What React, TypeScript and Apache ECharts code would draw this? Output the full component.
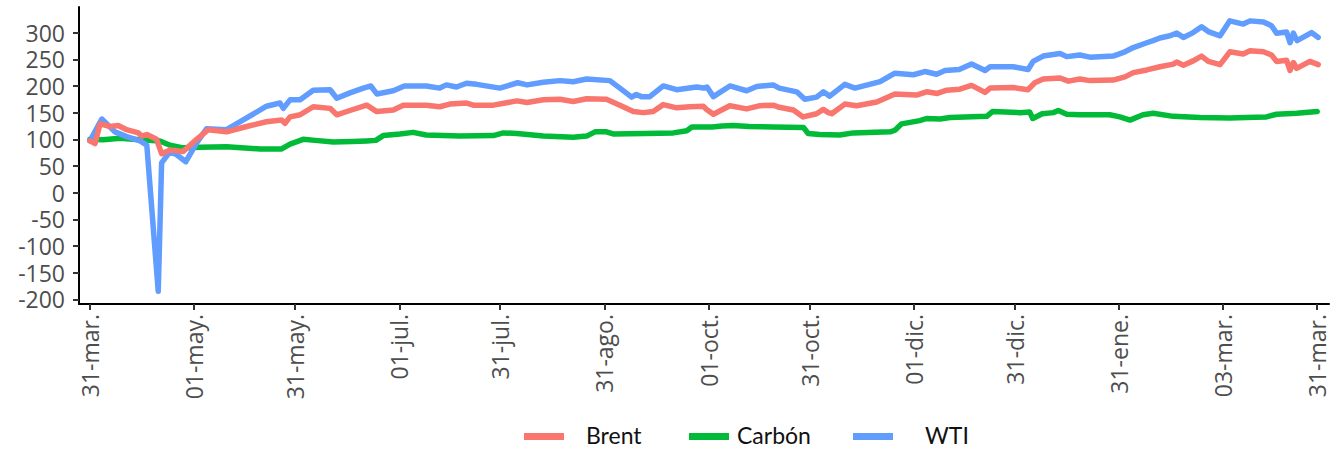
import React, { useEffect, useRef } from "react";
import * as echarts from "echarts";

// x = days since 31-mar-2020
const xTickDays = [0, 31, 61, 92, 122, 153, 184, 214, 245, 275, 306, 337, 365];
const xTickLabels = ["31-mar.", "01-may.", "31-may.", "01-jul.", "31-jul.", "31-ago.", "01-oct.", "31-oct.", "01-dic.", "31-dic.", "31-ene.", "03-mar.", "31-mar."];
const yTicks = [-200, -150, -100, -50, 0, 50, 100, 150, 200, 250, 300];

const seriesNames = ["Brent", "Carbón", "WTI"];
const seriesColors = ["#F8766D", "#00BA38", "#619CFF"];

const brentDays = [0, 1.5, 3, 6, 8.4, 10.9, 14.4, 15.4, 16.9, 19.8, 21.3, 23.8, 27.7, 31.7, 35.2, 40.6, 46.6, 52.5, 57, 58, 59.5, 62.5, 66.4, 71.4, 73.4, 77.3, 82.3, 85.3, 90.2, 93.2, 100, 104, 107, 112, 114, 120, 127, 130, 134.8, 139.8, 143.7, 147.7, 153.6, 157.6, 161.6, 164.6, 167.5, 170.5, 174.5, 178.4, 182.4, 183.4, 185.4, 190.3, 195.3, 199.3, 203.2, 205, 209.2, 212.1, 216.1, 218.1, 219.6, 220.6, 224.5, 228, 234, 239.4, 245.8, 248.8, 252, 254.8, 258.7, 262.2, 266.2, 267.7, 274.6, 279, 281, 283.5, 288.5, 291, 294.4, 297.4, 304.3, 307.8, 310.3, 314.3, 318.2, 322.2, 323.2, 325.2, 328.1, 330.6, 332.6, 336.1, 339, 343, 345, 349, 351.4, 352.9, 355.9, 356.9, 357.9, 358.9, 362.8, 365.3];
const brentValues = [97, 92, 129, 124, 126, 118, 112, 106, 109, 100, 73, 80, 77, 100, 118, 114, 124, 133, 136, 130, 142, 146, 161, 158, 146, 154, 164, 152, 155, 164, 164, 161, 166, 168, 164, 164, 172, 169, 174, 175, 171, 176, 175, 164, 152, 150, 152, 165, 159, 161, 162, 156, 147, 163, 157, 163, 164, 160, 155, 142, 148, 156, 150, 148, 166, 163, 170, 185, 183, 189, 186, 192, 194, 201, 188, 196, 197, 193, 206, 213, 215, 209, 213, 210, 211, 217, 225, 230, 236, 241, 245, 239, 247, 256, 246, 240, 264, 260, 266, 264, 258, 246, 248, 229, 244, 233, 246, 240];

const carbonDays = [0, 4, 8.9, 14.9, 20.8, 23.8, 27.7, 32.7, 40.6, 50.6, 57, 59.5, 63.4, 67, 72.4, 78, 82.3, 85, 87.2, 92.2, 96.1, 100, 110, 120, 122.9, 127, 134.8, 143.7, 147.7, 150.2, 153.6, 155.6, 165, 173.5, 177.5, 179, 185, 188, 191.3, 196, 203.2, 212.2, 213.6, 217, 223, 227, 238, 239.4, 241.4, 246.8, 248.8, 252.8, 255.8, 266.7, 268.4, 276.6, 279.5, 280.4, 283.2, 286.5, 288, 290.5, 294.4, 303.3, 306.3, 309.3, 313.2, 316.2, 322.2, 330.1, 339, 344, 349.9, 352.9, 358.9, 365];
const carbonValues = [100, 99, 102, 99, 97, 89, 84, 85, 86, 82, 82, 91, 100, 98, 95, 96, 97, 98, 107, 110, 113, 108, 106, 107, 112, 111, 106, 104, 106, 114, 114, 110, 111, 112, 116, 123, 123, 125, 126, 124, 123, 122, 111, 109, 108, 112, 114, 117, 129, 135, 139, 138, 141, 143, 152, 150, 151, 139, 148, 150, 154, 147, 146, 146, 142, 136, 146, 149, 143, 141, 140, 141, 142, 147, 149, 152];

const wtiDays = [0, 3.5, 7.4, 10.9, 14.9, 16.9, 20.3, 21.3, 23.8, 25.8, 28.5, 31.7, 34.7, 40.6, 46.6, 52.5, 56.5, 57.5, 59.5, 62.5, 66.4, 71.4, 73.4, 77.3, 81.3, 83.5, 85.3, 90.2, 93.5, 100, 104, 106, 109, 112, 115, 121.9, 127.2, 130, 134.8, 139.8, 143.7, 147.7, 154.6, 157.6, 161.1, 162.5, 164, 166.5, 170.5, 174.5, 180.4, 182.5, 183.5, 185.4, 190.3, 195.3, 198.3, 203.2, 205, 210.2, 212.6, 216.1, 218.1, 220, 224.5, 227.5, 233, 235, 239.4, 244.9, 248.3, 251.8, 254.3, 258.5, 262.2, 266.2, 267.7, 274.6, 279, 280.5, 283.5, 288.5, 290.5, 294.4, 297.4, 304.3, 307.8, 310.3, 314.3, 316.2, 318.2, 321.2, 323.2, 325.2, 328.1, 330.6, 332.6, 336.1, 339, 343, 345, 349, 351.4, 352.9, 355.9, 356.9, 357.9, 359, 363.3, 365.3];
const wtiValues = [97, 138, 114, 105, 97, 89, -185, 56, 77, 71, 58, 93, 120, 118, 140, 162, 168, 158, 174, 174, 192, 193, 177, 187, 196, 200, 185, 191, 200, 200, 196, 202, 198, 205, 203, 196, 206, 202, 207, 210, 208, 213, 210, 196, 179, 184, 180, 180, 200, 193, 198, 196, 198, 180, 200, 191, 199, 202, 196, 189, 175, 179, 189, 181, 203, 196, 205, 208, 224, 221, 227, 222, 229, 231, 241, 229, 236, 236, 231, 246, 256, 261, 255, 258, 254, 256, 264, 272, 281, 285, 290, 294, 299, 291, 300, 311, 302, 294, 322, 316, 322, 320, 313, 299, 301, 281, 299, 285, 300, 291];

const pair = (days: number[], vals: number[]) => days.map((d, i) => [d, vals[i]]);

export default function App() {
  const ref = useRef<HTMLDivElement>(null);
  useEffect(() => {
    if (!ref.current) return;
    const chart = echarts.init(ref.current, null, { renderer: "svg" });
    const tickFont = { fontFamily: "Open Sans", fontSize: 23, lineHeight: 23, color: "#4D4D4D" };
    const legendItems = [
      { x: 524, w: 40, tx: 586 },
      { x: 689, w: 40, tx: 737 },
      { x: 853, w: 40, tx: 925 },
    ];
    const graphic: any[] = [];
    legendItems.forEach((it, i) => {
      graphic.push({ type: "rect", left: it.x, top: 433, shape: { width: it.w, height: 7 }, style: { fill: seriesColors[i] }, silent: true });
      graphic.push({ type: "text", left: it.tx, top: 423, style: { text: seriesNames[i], fontFamily: "Lato", fontSize: 23, fill: "#111" }, silent: true });
    });
    const datas = [pair(brentDays, brentValues), pair(carbonDays, carbonValues), pair(wtiDays, wtiValues)];
    const order = [1, 2, 0];
    chart.setOption({
      animation: false,
      backgroundColor: "#fff",
      grid: { left: 79, right: 7, top: 7, bottom: 147, containLabel: false, outerBoundsMode: "none" },
      xAxis: {
        type: "value",
        min: -3.27,
        max: 368.5,
        splitLine: { show: false },
        axisLine: { show: true, onZero: false, lineStyle: { color: "#000", width: 2 } },
        axisTick: { show: true, customValues: xTickDays, length: 6, lineStyle: { color: "#333", width: 2 } },
        axisLabel: {
          customValues: xTickDays,
          rotate: 90,
          margin: 10,
          ...tickFont,
          formatter: (v: number) => {
            const idx = xTickDays.indexOf(Math.round(v));
            return idx >= 0 ? xTickLabels[idx] : "";
          },
        },
      },
      yAxis: {
        type: "value",
        min: -208.7,
        max: 348,
        splitLine: { show: false },
        axisLine: { show: true, onZero: false, lineStyle: { color: "#000", width: 2 } },
        axisTick: { show: true, customValues: yTicks, length: 6, lineStyle: { color: "#333", width: 2 } },
        axisLabel: { customValues: yTicks, margin: 14, ...tickFont },
      },
      series: order.map((i) => ({
        name: seriesNames[i],
        type: "line",
        data: datas[i],
        showSymbol: false,
        symbol: "none",
        lineStyle: { width: 5.5, color: seriesColors[i], join: "round", cap: "round" },
        itemStyle: { color: seriesColors[i] },
      })),
      graphic,
    });
    return () => chart.dispose();
  }, []);
  return <div ref={ref} style={{ position: "absolute", left: 0, top: 0, width: 1336, height: 451, background: "#fff" }} />;
}
